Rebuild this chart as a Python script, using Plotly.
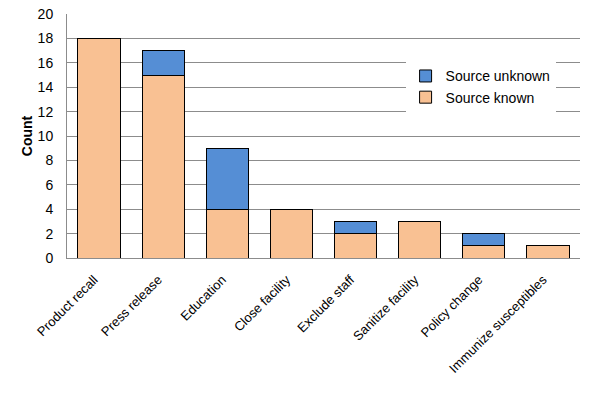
import plotly.graph_objects as go

categories = ["Product recall", "Press release", "Education", "Close facility",
              "Exclude staff", "Sanitize facility", "Policy change", "Immunize susceptibles"]
source_known = [18, 15, 4, 4, 2, 3, 1, 1]
source_unknown = [0, 2, 5, 0, 1, 0, 1, 0]

fig = go.Figure()
fig.add_trace(go.Bar(x=categories, y=source_known, name="Source known",
                     marker=dict(color="#F9C193", line=dict(color="black", width=1))))
fig.add_trace(go.Bar(x=categories, y=source_unknown, name="Source unknown",
                     marker=dict(color="#558ED5", line=dict(color="black", width=1))))

fig.update_layout(
    barmode="stack",
    bargap=0.34,
    width=596, height=393,
    margin=dict(l=67, r=16, t=14, b=135, autoexpand=False),
    paper_bgcolor="white", plot_bgcolor="white",
    font=dict(family="Liberation Sans, Arial, sans-serif", size=13, color="black"),
    legend=dict(x=0.66, y=0.81, xanchor="left", yanchor="top", traceorder="reversed",
                bgcolor="white", font=dict(size=14), itemwidth=30, tracegroupgap=0),
    showlegend=True,
)
fig.update_yaxes(range=[0, 20], dtick=2, showgrid=True, gridcolor="#8c8c8c", gridwidth=1,
                 showline=True, linecolor="#8c8c8c", linewidth=1, zeroline=False,
                 ticks="", automargin=False, tickfont=dict(size=14), ticklabelstandoff=10,
                 title=dict(text="<b>Count</b>", font=dict(size=14), standoff=1))
fig.update_xaxes(tickangle=-45, showline=True, linecolor="#8c8c8c", linewidth=1,
                 ticks="outside", ticklen=8, tickcolor="rgba(0,0,0,0)",
                 ticklabelshift=-5,
                 automargin=False, tickfont=dict(size=13))

# remove the page's default body margin so the figure sits at the window's corner
fig.write_html("out.html", config={"displayModeBar": False},
               post_script="document.body.style.margin='0';")
